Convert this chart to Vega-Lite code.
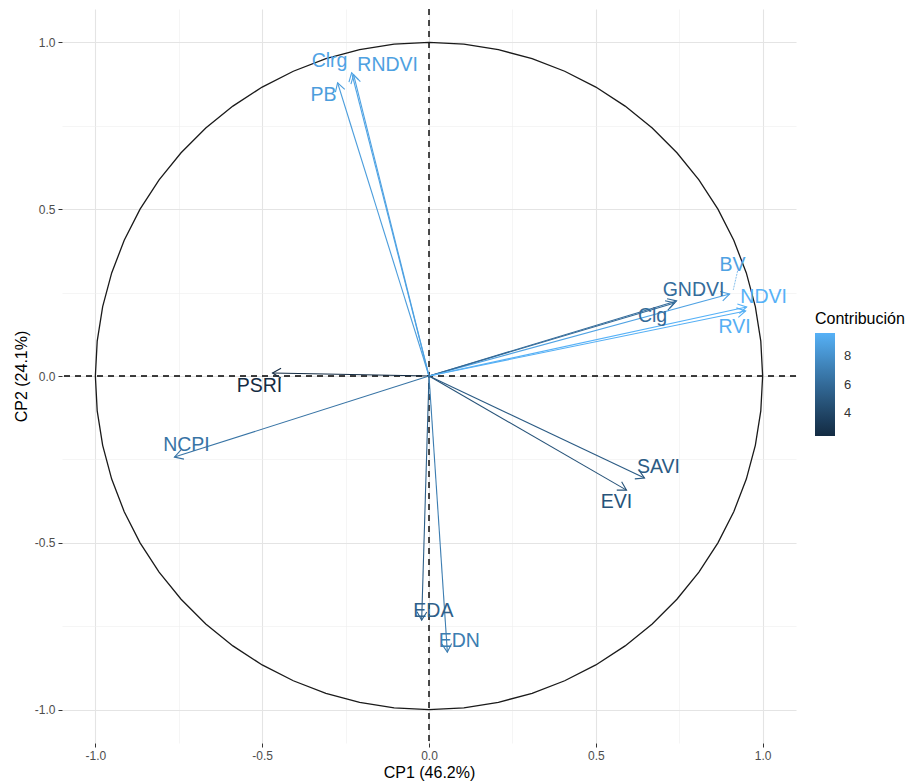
{
  "$schema": "https://vega.github.io/schema/vega-lite/v6.json",
  "width": 734,
  "height": 734,
  "autosize": "none",
  "padding": {"left": 62, "top": 9, "right": 112, "bottom": 41},
  "background": "white",
  "config": {
    "view": {"stroke": null},
    "font": "Liberation Sans",
    "axis": {
      "domain": false,
      "labelFont": "Liberation Sans",
      "labelFontSize": 12,
      "labelColor": "#4D4D4D",
      "tickColor": "#333333",
      "tickSize": 4,
      "labelPadding": 3,
      "titleFont": "Liberation Sans",
      "titleFontSize": 16,
      "titleFontWeight": "normal",
      "titleColor": "#000000"
    }
  },
  "datasets": {
    "vars": [
      {"var": "Clrg", "ox": 0, "oy": 0, "x": -0.232, "y": 0.909, "lx": -0.298, "ly": 0.945, "contrib": 8.94},
      {"var": "RNDVI", "ox": 0, "oy": 0, "x": -0.226, "y": 0.903, "lx": -0.124, "ly": 0.933, "contrib": 8.80},
      {"var": "PB", "ox": 0, "oy": 0, "x": -0.274, "y": 0.879, "lx": -0.316, "ly": 0.843, "contrib": 8.62},
      {"var": "BV", "ox": 0, "oy": 0, "x": 0.901, "y": 0.246, "lx": 0.910, "ly": 0.333, "contrib": 8.87},
      {"var": "GNDVI", "ox": 0, "oy": 0, "x": 0.742, "y": 0.225, "lx": 0.793, "ly": 0.258, "contrib": 6.11},
      {"var": "Clg", "ox": 0, "oy": 0, "x": 0.736, "y": 0.219, "lx": 0.670, "ly": 0.180, "contrib": 5.99},
      {"var": "NDVI", "ox": 0, "oy": 0, "x": 0.952, "y": 0.207, "lx": 1.003, "ly": 0.237, "contrib": 9.61},
      {"var": "RVI", "ox": 0, "oy": 0, "x": 0.949, "y": 0.195, "lx": 0.916, "ly": 0.147, "contrib": 9.50},
      {"var": "PSRI", "ox": 0, "oy": 0, "x": -0.469, "y": 0.009, "lx": -0.508, "ly": -0.030, "contrib": 2.39},
      {"var": "NCPI", "ox": 0, "oy": 0, "x": -0.763, "y": -0.243, "lx": -0.727, "ly": -0.207, "contrib": 6.51},
      {"var": "SAVI", "ox": 0, "oy": 0, "x": 0.646, "y": -0.306, "lx": 0.688, "ly": -0.273, "contrib": 5.19},
      {"var": "EVI", "ox": 0, "oy": 0, "x": 0.592, "y": -0.342, "lx": 0.562, "ly": -0.378, "contrib": 4.75},
      {"var": "EDA", "ox": 0, "oy": 0, "x": -0.022, "y": -0.732, "lx": 0.013, "ly": -0.705, "contrib": 5.45},
      {"var": "EDN", "ox": 0, "oy": 0, "x": 0.055, "y": -0.828, "lx": 0.091, "ly": -0.795, "contrib": 7.00}
    ],
    "leaders": [
      {"var": "BV", "x": 0.925, "y": 0.315, "x2": 0.912, "y2": 0.258, "contrib": 8.87}
    ],
    "circle": [
      {"a": 0, "x": 1.0, "y": 0.0}, {"a": 6, "x": 0.9945, "y": 0.1045}, {"a": 12, "x": 0.9781, "y": 0.2079},
      {"a": 18, "x": 0.9511, "y": 0.309}, {"a": 24, "x": 0.9135, "y": 0.4067}, {"a": 30, "x": 0.866, "y": 0.5},
      {"a": 36, "x": 0.809, "y": 0.5878}, {"a": 42, "x": 0.7431, "y": 0.6691}, {"a": 48, "x": 0.6691, "y": 0.7431},
      {"a": 54, "x": 0.5878, "y": 0.809}, {"a": 60, "x": 0.5, "y": 0.866}, {"a": 66, "x": 0.4067, "y": 0.9135},
      {"a": 72, "x": 0.309, "y": 0.9511}, {"a": 78, "x": 0.2079, "y": 0.9781}, {"a": 84, "x": 0.1045, "y": 0.9945},
      {"a": 90, "x": 0.0, "y": 1.0}, {"a": 96, "x": -0.1045, "y": 0.9945}, {"a": 102, "x": -0.2079, "y": 0.9781},
      {"a": 108, "x": -0.309, "y": 0.9511}, {"a": 114, "x": -0.4067, "y": 0.9135}, {"a": 120, "x": -0.5, "y": 0.866},
      {"a": 126, "x": -0.5878, "y": 0.809}, {"a": 132, "x": -0.6691, "y": 0.7431}, {"a": 138, "x": -0.7431, "y": 0.6691},
      {"a": 144, "x": -0.809, "y": 0.5878}, {"a": 150, "x": -0.866, "y": 0.5}, {"a": 156, "x": -0.9135, "y": 0.4067},
      {"a": 162, "x": -0.9511, "y": 0.309}, {"a": 168, "x": -0.9781, "y": 0.2079}, {"a": 174, "x": -0.9945, "y": 0.1045},
      {"a": 180, "x": -1.0, "y": 0.0}, {"a": 186, "x": -0.9945, "y": -0.1045}, {"a": 192, "x": -0.9781, "y": -0.2079},
      {"a": 198, "x": -0.9511, "y": -0.309}, {"a": 204, "x": -0.9135, "y": -0.4067}, {"a": 210, "x": -0.866, "y": -0.5},
      {"a": 216, "x": -0.809, "y": -0.5878}, {"a": 222, "x": -0.7431, "y": -0.6691}, {"a": 228, "x": -0.6691, "y": -0.7431},
      {"a": 234, "x": -0.5878, "y": -0.809}, {"a": 240, "x": -0.5, "y": -0.866}, {"a": 246, "x": -0.4067, "y": -0.9135},
      {"a": 252, "x": -0.309, "y": -0.9511}, {"a": 258, "x": -0.2079, "y": -0.9781}, {"a": 264, "x": -0.1045, "y": -0.9945},
      {"a": 270, "x": 0.0, "y": -1.0}, {"a": 276, "x": 0.1045, "y": -0.9945}, {"a": 282, "x": 0.2079, "y": -0.9781},
      {"a": 288, "x": 0.309, "y": -0.9511}, {"a": 294, "x": 0.4067, "y": -0.9135}, {"a": 300, "x": 0.5, "y": -0.866},
      {"a": 306, "x": 0.5878, "y": -0.809}, {"a": 312, "x": 0.6691, "y": -0.7431}, {"a": 318, "x": 0.7431, "y": -0.6691},
      {"a": 324, "x": 0.809, "y": -0.5878}, {"a": 330, "x": 0.866, "y": -0.5}, {"a": 336, "x": 0.9135, "y": -0.4067},
      {"a": 342, "x": 0.9511, "y": -0.309}, {"a": 348, "x": 0.9781, "y": -0.2079}, {"a": 354, "x": 0.9945, "y": -0.1045},
      {"a": 360, "x": 1.0, "y": 0.0}
    ],
    "zero": [{"v": 0}]
  },
  "layer": [
    {
      "data": {"name": "zero"},
      "mark": {"type": "rule", "color": "#000000", "strokeWidth": 1.4, "strokeDash": [6, 5]},
      "encoding": {
        "y": {
          "field": "v", "type": "quantitative", "title": "CP2 (24.1%)",
          "scale": {"domain": [-1.1, 1.1], "nice": false, "zero": false},
          "axis": {
            "values": [-1, -0.75, -0.5, -0.25, 0, 0.25, 0.5, 0.75, 1],
            "labelExpr": "abs(datum.value*2 - round(datum.value*2)) < 0.000001 ? replace(format(datum.value, '.1f'), '\u2212', '-') : ''",
            "tickOpacity": {"condition": {"test": "abs(datum.value*2 - round(datum.value*2)) < 0.000001", "value": 1}, "value": 0},
            "gridColor": {"condition": {"test": "abs(datum.value*2 - round(datum.value*2)) < 0.000001", "value": "#E4E4E4"}, "value": "#EFEFEF"},
            "gridWidth": {"condition": {"test": "abs(datum.value*2 - round(datum.value*2)) < 0.000001", "value": 1.1}, "value": 0.6},
            "titlePadding": 5
          }
        }
      }
    },
    {
      "data": {"name": "zero"},
      "mark": {"type": "rule", "color": "#000000", "strokeWidth": 1.4, "strokeDash": [6, 5]},
      "encoding": {
        "x": {
          "field": "v", "type": "quantitative", "title": "CP1 (46.2%)",
          "scale": {"domain": [-1.1, 1.1], "nice": false, "zero": false},
          "axis": {
            "values": [-1, -0.75, -0.5, -0.25, 0, 0.25, 0.5, 0.75, 1],
            "labelExpr": "abs(datum.value*2 - round(datum.value*2)) < 0.000001 ? replace(format(datum.value, '.1f'), '\u2212', '-') : ''",
            "tickOpacity": {"condition": {"test": "abs(datum.value*2 - round(datum.value*2)) < 0.000001", "value": 1}, "value": 0},
            "gridColor": {"condition": {"test": "abs(datum.value*2 - round(datum.value*2)) < 0.000001", "value": "#E4E4E4"}, "value": "#EFEFEF"},
            "gridWidth": {"condition": {"test": "abs(datum.value*2 - round(datum.value*2)) < 0.000001", "value": 1.1}, "value": 0.6},
            "titlePadding": 3
          }
        }
      }
    },
    {
      "data": {"name": "circle"},
      "mark": {"type": "line", "color": "#1A1A1A", "strokeWidth": 1.3},
      "encoding": {
        "x": {"field": "x", "type": "quantitative", "title": "CP1 (46.2%)"},
        "y": {"field": "y", "type": "quantitative", "title": "CP2 (24.1%)"},
        "order": {"field": "a", "type": "quantitative"}
      }
    },
    {
      "data": {"name": "vars"},
      "mark": {"type": "rule", "strokeWidth": 1.1},
      "encoding": {
        "x": {"field": "ox", "type": "quantitative", "title": "CP1 (46.2%)"},
        "y": {"field": "oy", "type": "quantitative", "title": "CP2 (24.1%)"},
        "x2": {"field": "x"},
        "y2": {"field": "y"},
        "stroke": {
          "field": "contrib", "type": "quantitative", "title": "Contribución",
          "scale": {"type": "linear", "range": ["#132B43", "#56B1F7"], "interpolate": "lab", "nice": false, "zero": false},
          "legend": {
            "type": "gradient", "direction": "vertical", "orient": "none", "legendX": 753, "legendY": 302,
            "values": [4, 6, 8],
            "gradientLength": 103, "gradientThickness": 20, "gradientStrokeWidth": 0,
            "titleFont": "Liberation Sans", "titleFontSize": 16, "titleFontWeight": "normal", "titleColor": "#000000", "titlePadding": 6,
            "labelFont": "Liberation Sans", "labelFontSize": 13, "labelColor": "#333333", "labelOffset": 9
          }
        }
      }
    },
    {
      "data": {"name": "vars"},
      "mark": {
        "type": "point",
        "shape": "M-0.5,0.866L0,0L0.5,0.866",
        "filled": false,
        "size": 380,
        "strokeWidth": 1.1,
        "opacity": 1,
        "angle": {"expr": "atan2(-datum.y, datum.x) * 180 / PI + 90"}
      },
      "encoding": {
        "x": {"field": "x", "type": "quantitative", "title": "CP1 (46.2%)"},
        "y": {"field": "y", "type": "quantitative", "title": "CP2 (24.1%)"},
        "stroke": {"field": "contrib", "type": "quantitative", "title": "Contribución"}
      }
    },
    {
      "data": {"name": "leaders"},
      "mark": {"type": "rule", "strokeWidth": 0.7, "strokeDash": [2, 1]},
      "encoding": {
        "x": {"field": "x", "type": "quantitative", "title": "CP1 (46.2%)"},
        "y": {"field": "y", "type": "quantitative", "title": "CP2 (24.1%)"},
        "x2": {"field": "x2"},
        "y2": {"field": "y2"},
        "stroke": {"field": "contrib", "type": "quantitative", "title": "Contribución"}
      }
    },
    {
      "data": {"name": "vars"},
      "mark": {"type": "text", "fontSize": 19.5, "font": "Liberation Sans", "align": "center", "baseline": "middle"},
      "encoding": {
        "x": {"field": "lx", "type": "quantitative", "title": "CP1 (46.2%)"},
        "y": {"field": "ly", "type": "quantitative", "title": "CP2 (24.1%)"},
        "text": {"field": "var"},
        "fill": {
          "field": "contrib", "type": "quantitative", "title": "Contribución",
          "scale": {"type": "linear", "range": ["#132B43", "#56B1F7"], "interpolate": "lab", "nice": false, "zero": false},
          "legend": null
        }
      }
    }
  ]
}
